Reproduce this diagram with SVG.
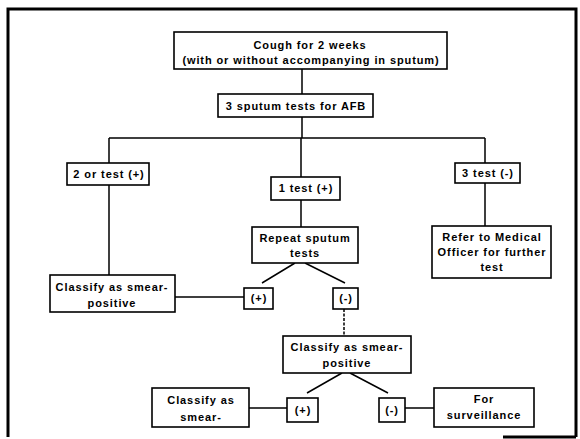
<svg xmlns="http://www.w3.org/2000/svg" width="580" height="439" viewBox="0 0 580 439">
<style>
.box{fill:#fff;stroke:#000;stroke-width:1.6}
.t{font-family:"Liberation Sans",Arial,sans-serif;font-weight:bold;font-size:11px;letter-spacing:0.9px;text-anchor:middle;fill:#000}
.c{stroke:#000;stroke-width:1.5;fill:none}
.frame{stroke:#000;stroke-width:3;fill:none}
</style>
<rect width="580" height="439" fill="#fff"/>
<g id="frame">
<path class="frame" d="M8,437 V9 H576 V437"/>
<path stroke="#000" stroke-width="3" d="M503,437 H576"/>
</g>
<g id="connectors">
<path class="c" d="M302,69 V94 M302,117 V138 M109,138 H485 M109,138 V163 M109,185 V275 M301,138 V177 M301,200 V227 M485,138 V163 M485,183 V226"/>
<path class="c" d="M295,263 L262,283 M305,263 L345,283 M175,297 H244"/>
<path class="c" stroke-dasharray="3,1.5" d="M344,309 V336"/>
<path class="c" d="M342,373 L307,393 M350,373 L388,393 M249,408 H287 M405,408 H434"/>
</g>
<g id="cough">
<rect class="box" x="174" y="32" width="273" height="37"/>
<text class="t" x="310" y="49">Cough for 2 weeks</text>
<text class="t" x="311" y="64">(with or without accompanying in sputum)</text>
</g>
<g id="sputum">
<rect class="box" x="218" y="94" width="155" height="23"/>
<text class="t" x="296" y="110">3 sputum tests for AFB</text>
</g>
<g id="two-test">
<rect class="box" x="67" y="163" width="82" height="22"/>
<text class="t" x="109" y="178">2 or test (+)</text>
</g>
<g id="one-test">
<rect class="box" x="271" y="177" width="69" height="23"/>
<text class="t" x="306" y="192">1  test (+)</text>
</g>
<g id="three-test">
<rect class="box" x="455" y="163" width="65" height="20"/>
<text class="t" x="488" y="177">3  test (-)</text>
</g>
<g id="classify1">
<rect class="box" x="50" y="275" width="125" height="37"/>
<text class="t" x="112" y="291">Classify as smear-</text>
<text class="t" x="112" y="307">positive</text>
</g>
<g id="repeat">
<rect class="box" x="252" y="227" width="106" height="36"/>
<text class="t" x="305" y="242">Repeat sputum</text>
<text class="t" x="305" y="257">tests</text>
</g>
<g id="refer">
<rect class="box" x="432" y="226" width="119" height="52"/>
<text class="t" x="492" y="241">Refer to Medical</text>
<text class="t" x="492" y="256">Officer for further</text>
<text class="t" x="492" y="271">test</text>
</g>
<g id="plus1">
<rect class="box" x="244" y="288" width="29" height="21"/>
<text class="t" x="259" y="302">(+)</text>
</g>
<g id="minus1">
<rect class="box" x="333" y="288" width="25" height="21"/>
<text class="t" x="346" y="302">(-)</text>
</g>
<g id="classify2">
<rect class="box" x="283" y="336" width="128" height="37"/>
<text class="t" x="347" y="351">Classify as smear-</text>
<text class="t" x="347" y="367">positive</text>
</g>
<g id="plus2">
<rect class="box" x="287" y="398" width="31" height="24"/>
<text class="t" x="303" y="414">(+)</text>
</g>
<g id="minus2">
<rect class="box" x="379" y="398" width="26" height="24"/>
<text class="t" x="392" y="414">(-)</text>
</g>
<g id="classify3">
<rect class="box" x="152" y="388" width="97" height="39"/>
<text class="t" x="201" y="404">Classify as</text>
<text class="t" x="201" y="421">smear-</text>
</g>
<g id="surveillance">
<rect class="box" x="434" y="388" width="100" height="39"/>
<text class="t" x="484" y="403">For</text>
<text class="t" x="484" y="419">surveillance</text>
</g>
</svg>
